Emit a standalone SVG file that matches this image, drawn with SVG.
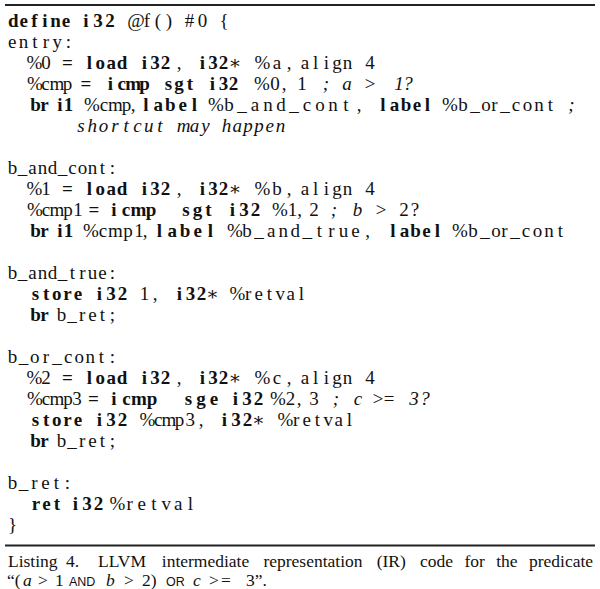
<svg xmlns="http://www.w3.org/2000/svg" width="600" height="589" viewBox="0 0 600 589">
<style>
.code{font-family:"Liberation Serif","DejaVu Serif",serif;font-size:19px;fill:#111;text-anchor:middle}
.b{font-weight:bold}
.i{font-style:italic}
.cap{font-family:"Liberation Serif","DejaVu Serif",serif;font-size:17.5px;fill:#111}
.sc{font-family:"Liberation Sans","DejaVu Sans",sans-serif;font-size:12.5px}
.rule{stroke:#222;fill:none}
</style>
<rect width="600" height="589" fill="#fff"/>
<line class="rule" x1="5" y1="5" x2="595" y2="5" stroke-width="1.8"/>
<g id="func" class="code">
<text y="27.3"><tspan class="b" x="13.2 23.8 34.4 45 55.6 66">define</tspan><tspan class="b" x="86 98 110">i32</tspan><tspan x="136 147 158 169">@f()</tspan><tspan x="189.5 202.5">#0</tspan><tspan x="224">{</tspan></text>
</g>
<g id="entry" class="code">
<text y="48.3"><tspan x="12.2 23.5 34.8 46 57.3 68.5">entry:</tspan></text>
<text y="69.3"><tspan x="34.5 46">%0</tspan><tspan class="b" x="67.5">=</tspan><tspan class="b" x="89.5 100.3 111.2 122">load</tspan><tspan class="b" x="144.5 155 165.5">i32</tspan><tspan x="179">,</tspan><tspan class="b" x="202.5 213 223.5">i32</tspan><tspan x="235">∗</tspan><tspan x="262.5 277 289">%a,</tspan><tspan x="305 315.6 326.3 336.9 347.5">align</tspan><tspan x="370">4</tspan></text>
<text y="90.3"><tspan x="35 45.5 57 67.5">%cmp</tspan><tspan class="b" x="86">=</tspan><tspan class="b" x="110.5 121.8 133.2 144.5">icmp</tspan><tspan class="b" x="168.5 179 190">sgt</tspan><tspan class="b" x="212.5 223.5 233.5">i32</tspan><tspan x="262 275 284">%0,</tspan><tspan x="302">1</tspan><tspan class="i" x="326 347 370 399 408">;a&gt;1?</tspan></text>
<text y="111.3"><tspan class="b" x="35.5 44.5">br</tspan><tspan class="b" x="60 68.5">i1</tspan><tspan x="92 104 115.5 126.5 133">%cmp,</tspan><tspan class="b" x="146 158.2 170.4 182.6 194.5">label</tspan><tspan x="216 229 242 255 268 281 294 307 320 333 346 359">%b_and_cont,</tspan><tspan class="b" x="383 394.5 406 417 427.5">label</tspan><tspan x="450 463 475 486 494.5 505 516 527.5 539 550.5">%b_or_cont</tspan><tspan class="i" x="571.5">;</tspan></text>
<text y="132.3" class="i"><tspan x="81 92.3 103.6 114.9 126.1 137.4 148.7 160">shortcut</tspan><tspan x="183.5 194.5 205.5">may</tspan><tspan x="226.5 237.3 248.1 258.9 269.7 280.5">happen</tspan></text>
</g>
<g id="b_and_cont" class="code">
<text y="174.3"><tspan x="12.5 22.5 32.5 42.5 52.5 62.5 72.5 82.5 92.5 102.5 112.5">b_and_cont:</tspan></text>
<text y="195.3"><tspan x="34.5 46">%1</tspan><tspan class="b" x="67.5">=</tspan><tspan class="b" x="89.5 100.3 111.2 122">load</tspan><tspan class="b" x="144.5 155 165.5">i32</tspan><tspan x="179">,</tspan><tspan class="b" x="202.5 213 223.5">i32</tspan><tspan x="235">∗</tspan><tspan x="262.5 277 289">%b,</tspan><tspan x="305 315.6 326.3 336.9 347.5">align</tspan><tspan x="370">4</tspan></text>
<text y="216.3"><tspan x="35 46 57 68 78">%cmp1</tspan><tspan class="b" x="94">=</tspan><tspan class="b" x="114 126 138.5 151">icmp</tspan><tspan class="b" x="186 197.5 208.5">sgt</tspan><tspan class="b" x="232.5 244 255.5">i32</tspan><tspan x="280 292.5 299.5">%1,</tspan><tspan x="314">2</tspan><tspan class="i" x="334 357.5 381">;b&gt;</tspan><tspan x="404 415">2?</tspan></text>
<text y="237.3"><tspan class="b" x="35.5 44.5">br</tspan><tspan class="b" x="60 68.5">i1</tspan><tspan x="91 103 115.5 128 139 145">%cmp1,</tspan><tspan class="b" x="159.5 172.3 185 197.8 210.5">label</tspan><tspan x="235 247 259.1 271.1 283.2 295.2 307.3 319.3 331.4 343.4 355.5 367.5">%b_and_true,</tspan><tspan class="b" x="393 404.5 415.5 426.5 437.5">label</tspan><tspan x="460 473 485 496 504.5 515 526 537.5 549 560.5">%b_or_cont</tspan></text>
</g>
<g id="b_and_true" class="code">
<text y="279.3"><tspan x="12.5 22.5 32.5 42.5 52.5 62.5 72.5 82.5 92.5 102.5 112.5">b_and_true:</tspan></text>
<text y="300.3"><tspan class="b" x="35.5 46.1 56.8 67.4 78">store</tspan><tspan class="b" x="99.5 111 122.5">i32</tspan><tspan x="144.5 155">1,</tspan><tspan class="b" x="179.5 190.5 201.5">i32</tspan><tspan x="212.5">∗</tspan><tspan x="237.5 248.2 258.8 269.5 280.2 290.8 301.5">%retval</tspan></text>
<text y="321.3"><tspan class="b" x="35.5 44.5">br</tspan><tspan x="61.5 72 82.2 92.4 102.5 112.5">b_ret;</tspan></text>
</g>
<g id="b_or_cont" class="code">
<text y="363.3"><tspan x="12.5 23.6 34.7 45.8 56.9 68.1 79.2 90.3 101.4 112.5">b_or_cont:</tspan></text>
<text y="384.3"><tspan x="34.5 46">%2</tspan><tspan class="b" x="67.5">=</tspan><tspan class="b" x="89.5 100.3 111.2 122">load</tspan><tspan class="b" x="144.5 155 165.5">i32</tspan><tspan x="179">,</tspan><tspan class="b" x="202.5 213 223.5">i32</tspan><tspan x="235">∗</tspan><tspan x="262.5 277 289">%c,</tspan><tspan x="305 315.6 326.3 336.9 347.5">align</tspan><tspan x="370">4</tspan></text>
<text y="405.3"><tspan x="35 46 57 68 77">%cmp3</tspan><tspan class="b" x="93.5">=</tspan><tspan class="b" x="114 126.5 139 152">icmp</tspan><tspan class="b" x="188.5 201 214">sge</tspan><tspan class="b" x="235.5 247 258.5">i32</tspan><tspan x="278 290.5 299">%2,</tspan><tspan x="314">3</tspan><tspan class="i" x="336 358 378 389 414 425">;c&gt;=3?</tspan></text>
<text y="426.3"><tspan class="b" x="35.5 46.1 56.8 67.4 78">store</tspan><tspan class="b" x="99.5 111 122.5">i32</tspan><tspan x="147.5 158.2 168.9 179.6 190.3 201">%cmp3,</tspan><tspan class="b" x="224.5 236 247.5">i32</tspan><tspan x="258.5">∗</tspan><tspan x="285.5 296.2 306.8 317.5 328.2 338.8 349.5">%retval</tspan></text>
<text y="447.3"><tspan class="b" x="35.5 44.5">br</tspan><tspan x="61.5 72 82.2 92.4 102.5 112.5">b_ret;</tspan></text>
</g>
<g id="b_ret" class="code">
<text y="489.3"><tspan x="12.5 23.5 34.5 45.5 56.5 67.5">b_ret:</tspan></text>
<text y="510.3"><tspan class="b" x="36 46.5 57">ret</tspan><tspan class="b" x="75.5 87 98.5">i32</tspan><tspan x="117.5 129.7 141.8 154 166.2 178.3 190.5">%retval</tspan></text>
<text y="531.3"><tspan x="12.5">}</tspan></text>
</g>
<line class="rule" x1="5" y1="545.5" x2="595" y2="545.5" stroke-width="2.2"/>
<g id="caption" class="cap">
<text y="566.5"><tspan x="8">Listing</tspan><tspan x="66">4.</tspan><tspan x="98">LLVM</tspan><tspan x="161.8">intermediate</tspan><tspan x="263.4">representation</tspan><tspan x="376.7">(IR)</tspan><tspan x="420">code</tspan><tspan x="464.4">for</tspan><tspan x="496.2">the</tspan><tspan x="529" textLength="64" lengthAdjust="spacingAndGlyphs">predicate</tspan></text>
<text y="585.5"><tspan x="7">“(</tspan><tspan class="i" x="23">a</tspan><tspan x="38">&gt;</tspan><tspan x="55">1</tspan><tspan class="sc" x="69">AND</tspan><tspan class="i" x="106">b</tspan><tspan x="124">&gt;</tspan><tspan x="142">2)</tspan><tspan class="sc" x="166">OR</tspan><tspan class="i" x="193">c</tspan><tspan x="209">&gt;</tspan><tspan x="221">=</tspan><tspan x="246">3”.</tspan></text>
</g>
</svg>
